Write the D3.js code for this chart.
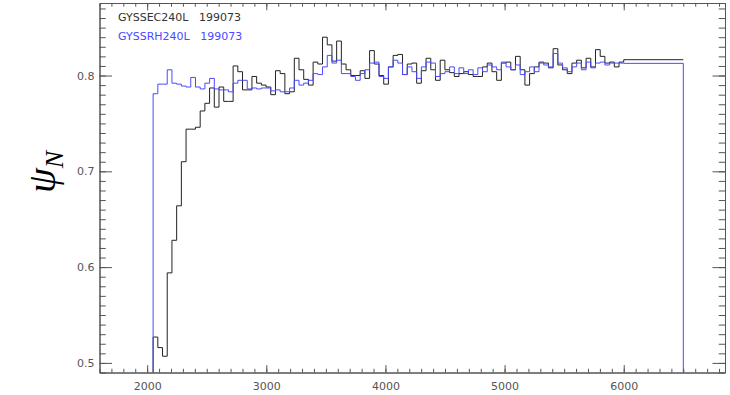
<!DOCTYPE html>
<html>
<head>
<meta charset="utf-8">
<script src="https://cdn.jsdelivr.net/npm/d3@7"></script>
<style>
  html, body { margin: 0; padding: 0; background: #fff; }
  svg { display: block; }
  .tick text { font-family: "DejaVu Sans", sans-serif; font-size: 11px; fill: #555; }
</style>
</head>
<body>
<svg id="chart" width="730" height="395"></svg>
<script>
// Histogram binning along x: 100 equal bins from binStart, then one wide tail bin
const binStart = 2050;
const binWidth = 39.5;
const tailEdge = 6500;

const xTickLabels = [2000, 3000, 4000, 5000, 6000];
const yTickLabels = [0.5, 0.6, 0.7, 0.8];

const seriesNames = ["GYSSEC240L", "GYSSRH240L"];
const shotNumbers = ["199073", "199073"];

const ecValues = [
  0.527, 0.516, 0.507, 0.594, 0.628, 0.664, 0.710, 0.744, 0.744, 0.746,
  0.763, 0.771, 0.787, 0.767, 0.788, 0.773, 0.773, 0.810, 0.804, 0.785,
  0.785, 0.799, 0.792, 0.790, 0.788, 0.780, 0.805, 0.802, 0.781, 0.783,
  0.818, 0.806, 0.796, 0.790, 0.814, 0.812, 0.840, 0.832, 0.815, 0.836,
  0.812, 0.806, 0.800, 0.800, 0.805, 0.797, 0.826, 0.812, 0.800, 0.791,
  0.809, 0.821, 0.822, 0.801, 0.812, 0.813, 0.792, 0.805, 0.818, 0.806,
  0.795, 0.816, 0.806, 0.803, 0.799, 0.802, 0.804, 0.801, 0.799, 0.799,
  0.809, 0.813, 0.804, 0.795, 0.813, 0.814, 0.806, 0.820, 0.806, 0.790,
  0.802, 0.809, 0.814, 0.813, 0.808, 0.828, 0.811, 0.806, 0.802, 0.813,
  0.816, 0.808, 0.818, 0.809, 0.827, 0.820, 0.813, 0.814, 0.809, 0.814,
  0.8165
];

const rhValues = [
  0.781, 0.791, 0.791, 0.806, 0.792, 0.791, 0.789, 0.788, 0.798, 0.788,
  0.786, 0.792, 0.797, 0.786, 0.785, 0.785, 0.783, 0.792, 0.795, 0.795,
  0.786, 0.787, 0.786, 0.787, 0.787, 0.784, 0.785, 0.783, 0.783, 0.787,
  0.795, 0.790, 0.792, 0.795, 0.802, 0.801, 0.809, 0.821, 0.813, 0.816,
  0.802, 0.802, 0.799, 0.795, 0.802, 0.806, 0.813, 0.814, 0.799, 0.797,
  0.809, 0.816, 0.813, 0.801, 0.809, 0.804, 0.797, 0.809, 0.814, 0.813,
  0.799, 0.802, 0.804, 0.809, 0.802, 0.808, 0.802, 0.806, 0.801, 0.808,
  0.804, 0.811, 0.809, 0.806, 0.814, 0.809, 0.806, 0.811, 0.801, 0.804,
  0.809, 0.804, 0.813, 0.811, 0.809, 0.823, 0.813, 0.808, 0.804, 0.809,
  0.813, 0.806, 0.814, 0.808, 0.813, 0.814, 0.811, 0.813, 0.813, 0.813,
  0.8127
];

const seriesColors = ["#222222", "#4a4aff"];
const labelColors = ["#333333", "#4a4aff"];

const svg = d3.select("#chart");
const margin = { left: 99.5, right: 5, top: 3, bottom: 22.5 };
const W = 730, H = 395;

const x = d3.scaleLinear().domain([1600, 6850]).range([margin.left, W - margin.right]);
const y = d3.scaleLinear().domain([0.49, 0.8757]).range([H - margin.bottom, margin.top]);

const axisColor = "#555";

// bin edges: equal-width bins, with the last value spanning to tailEdge
function edgesFor(values) {
  const e = [];
  for (let i = 0; i < values.length; i++) e.push(binStart + i * binWidth);
  e.push(tailEdge);
  return e;
}

// step outline; dropToBase controls whether the right end falls back to the axis
function stepPoints(values, dropToBase) {
  const e = edgesFor(values);
  const yBase = y.domain()[0];
  const pts = [[e[0], yBase]];
  values.forEach((v, i) => pts.push([e[i], v]));
  pts.push([e[e.length - 1], values[values.length - 1]]);
  if (dropToBase) pts.push([e[e.length - 1], yBase]);
  return pts;
}

const line = d3.line()
  .x(d => x(d[0]))
  .y(d => y(d[1]))
  .curve(d3.curveStepAfter);

const plot = svg.append("g");
[ecValues, rhValues].forEach((vals, k) => {
  plot.append("path")
    .attr("d", line(stepPoints(vals, k === 1)))
    .attr("fill", "none")
    .attr("stroke", seriesColors[k])
    .attr("stroke-width", 1);
});

// axes: minor ticks without labels plus labelled major ticks, on all four sides
const xMinor = d3.range(1600, 6851, 100);
const yMinor = d3.range(49, 88, 1).map(d => d / 100);
const plotW = x.range()[1] - x.range()[0];
const plotH = y.range()[0] - y.range()[1];
const xMajLen = plotH * 0.02, xMinLen = xMajLen / 2;
const yMajLen = plotW * 0.02, yMinLen = yMajLen / 2;

function styleAxis(g) {
  g.selectAll("path.domain").attr("stroke", axisColor);
  g.selectAll(".tick line").attr("stroke", axisColor);
}

const bottomG = svg.append("g").attr("transform", `translate(0,${y.range()[0]})`);
bottomG.append("g").call(d3.axisBottom(x).tickValues(xMinor).tickSize(-xMinLen).tickFormat("").tickSizeOuter(0)).call(styleAxis);
bottomG.append("g").call(d3.axisBottom(x).tickValues(xTickLabels).tickSize(-xMajLen).tickPadding(10).tickFormat(d3.format("d")).tickSizeOuter(0)).call(styleAxis);

const topG = svg.append("g").attr("transform", `translate(0,${y.range()[1]})`);
topG.append("g").call(d3.axisTop(x).tickValues(xMinor).tickSize(-xMinLen).tickFormat("").tickSizeOuter(0)).call(styleAxis);
topG.append("g").call(d3.axisTop(x).tickValues(xTickLabels).tickSize(-xMajLen).tickFormat("").tickSizeOuter(0)).call(styleAxis);

const leftG = svg.append("g").attr("transform", `translate(${x.range()[0]},0)`);
leftG.append("g").call(d3.axisLeft(y).tickValues(yMinor).tickSize(-yMinLen).tickFormat("").tickSizeOuter(0)).call(styleAxis);
leftG.append("g").call(d3.axisLeft(y).tickValues(yTickLabels).tickSize(-yMajLen).tickPadding(5).tickFormat(d3.format(".1f")).tickSizeOuter(0)).call(styleAxis);

const rightG = svg.append("g").attr("transform", `translate(${x.range()[1]},0)`);
rightG.append("g").call(d3.axisRight(y).tickValues(yMinor).tickSize(-yMinLen).tickFormat("").tickSizeOuter(0)).call(styleAxis);
rightG.append("g").call(d3.axisRight(y).tickValues(yTickLabels).tickSize(-yMajLen).tickFormat("").tickSizeOuter(0)).call(styleAxis);

// legend
seriesNames.forEach((name, k) => {
  svg.append("text")
    .attr("x", 118)
    .attr("y", 21 + k * 19)
    .attr("fill", labelColors[k])
    .attr("font-family", "DejaVu Sans, sans-serif")
    .attr("font-size", 11)
    .style("white-space", "pre")
    .text(name + "   " + shotNumbers[k]);
});

// y-axis title: psi_N
const yTitle = svg.append("text")
  .attr("transform", "translate(55,172) rotate(-90)")
  .attr("text-anchor", "middle")
  .attr("font-family", "Liberation Serif, DejaVu Serif, serif")
  .attr("font-style", "italic")
  .attr("font-size", 40)
  .attr("fill", "#000");
yTitle.append("tspan").text("ψ");
yTitle.append("tspan").attr("font-size", 26).attr("dy", 8).text("N");
</script>
</body>
</html>
